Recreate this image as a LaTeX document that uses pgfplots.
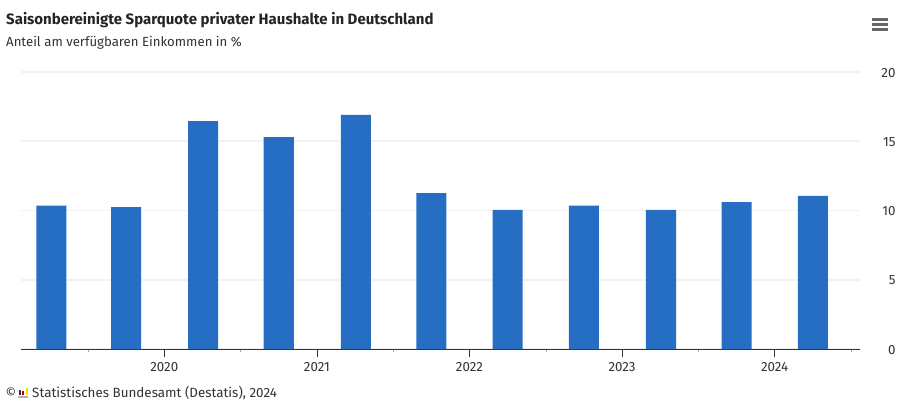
\documentclass[border=0pt]{standalone}
\usepackage{pgfplots}
\pgfplotsset{compat=1.18}
\usepackage{fontspec}
\setmainfont{Fira Sans}
\definecolor{barblue}{HTML}{256EC4}
\definecolor{txt}{HTML}{333333}
\definecolor{gridc}{HTML}{F2F2F2}
\begin{document}
\begin{tikzpicture}[x=1pt,y=1pt]
\path[fill=white] (0,0) rectangle (916,408);
\begin{axis}[
  at={(21pt,59pt)}, anchor=south west,
  width=839pt, height=277pt, scale only axis,
  xmin=2019.061, xmax=2024.559, ymin=0, ymax=20,
  axis y line*=right, axis x line*=bottom,
  y axis line style={draw=none},
  x axis line style={draw=txt,line width=0.9pt,-},
  xtick={2020,2021,2022,2023,2024},
  minor xtick={2019.5,2020.5,2021.5,2022.5,2023.5,2024.5},
  xticklabels={2020,2021,2022,2023,2024},
  ytick={0,5,10,15,20},
  ymajorgrids, grid style={gridc,line width=1.8pt},
  major x tick style={draw=txt,line width=0.7pt},
  minor x tick style={draw=gray!70,line width=0.5pt},
  major tick length=8pt, minor tick length=3pt,
  tick align=outside,
  ytick style={draw=none},
  /pgf/number format/assume math mode=true,
  /pgf/number format/1000 sep={},
  tick label style={font=\fontsize{13.3}{15}\selectfont,text=txt},
  x tick label style={yshift=-1.5pt},
  y tick label style={anchor=east,xshift=31pt,yshift=-0.7pt},
  axis on top=false,
  clip=false,
]
\addplot[ybar,bar width=0.197,fill=barblue,draw=none,bar shift=0pt] coordinates {
 (2019.26,10.35) (2019.75,10.25) (2020.255,16.45) (2020.75,15.3)
 (2021.255,16.9) (2021.75,11.25) (2022.25,10.05) (2022.75,10.35)
 (2023.255,10.05) (2023.75,10.6) (2024.25,11.05)};
\end{axis}
\node[anchor=base west,inner sep=0,text=txt!70!black,font=\fontsize{15}{17}\selectfont\bfseries] at (6,383.8) {Saisonbereinigte Sparquote privater Haushalte in Deutschland};
\node[anchor=base west,inner sep=0,text=txt,font=\fontsize{13.2}{15}\selectfont] at (6,361.2) {Anteil am verfügbaren Einkommen in \%};
\node[anchor=base west,inner sep=0,text=txt,font=\fontsize{13.4}{15}\selectfont] at (32,10.5) {Statistisches Bundesamt (Destatis), 2024};
\node[anchor=base west,inner sep=0,text=txt,font=\fontsize{13}{15}\selectfont] at (5.5,10.5) {©};
% logo
\fill[gray!60] (18,10) rectangle (28,12);
\fill[black!80] (18.5,13) rectangle (20.5,18.5);
\fill[red!70!black] (22,13) rectangle (24,17);
\fill[yellow!80!orange] (25.5,13) rectangle (27.5,20);
% menu icon
\foreach \y in {378.5,383.5,388.5}
  \draw[line width=3pt,color=black!60,line cap=butt] (872,\y) -- (888,\y);
\end{tikzpicture}
\end{document}
